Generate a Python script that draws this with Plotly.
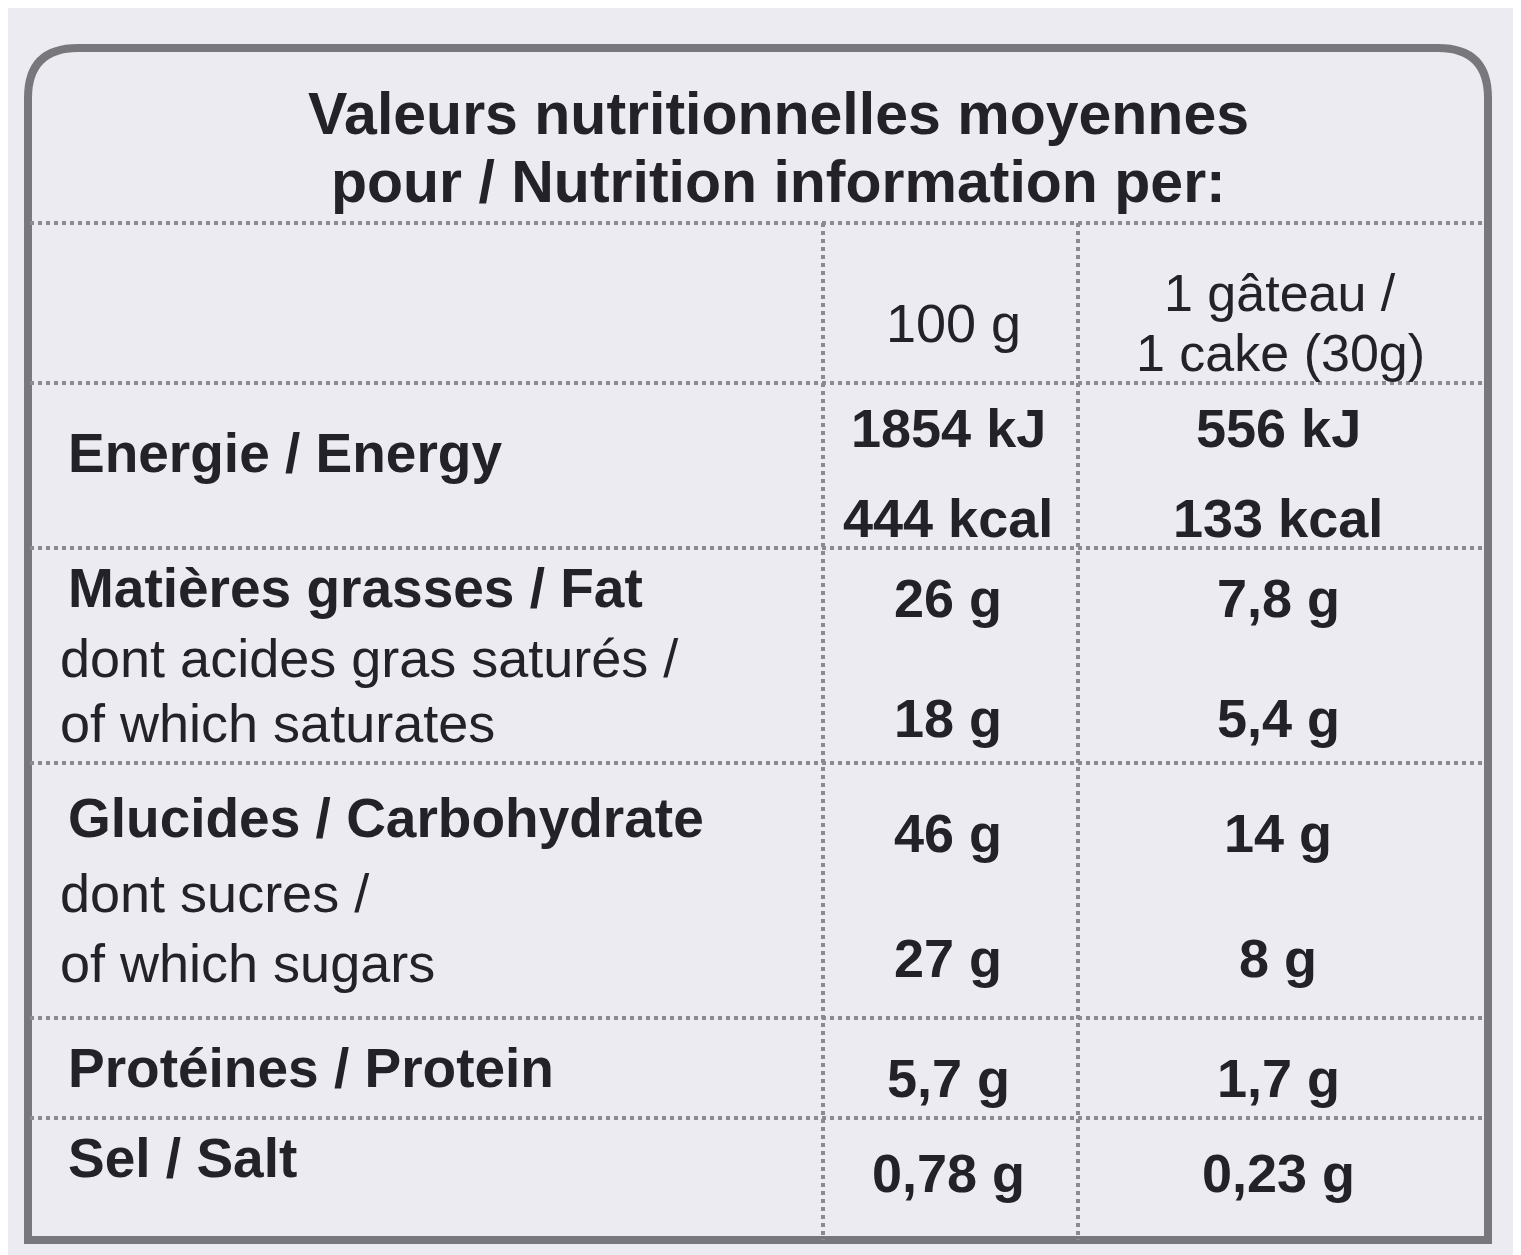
import plotly.graph_objects as go

title_lines = ["Valeurs nutritionnelles moyennes", "pour / Nutrition information per:"]
col_headers_100 = ["100 g"]
col_headers_cake = ["1 gâteau /", "1 cake (30g)"]
labels = [("Energie / Energy", True), ("Matières grasses / Fat", True),
          ("dont acides gras saturés /", False), ("of which saturates", False),
          ("Glucides / Carbohydrate", True), ("dont sucres /", False),
          ("of which sugars", False), ("Protéines / Protein", True), ("Sel / Salt", True)]
label_y = [445, 580, 650, 715, 810, 885, 955, 1060, 1150]
vals_100 = ["1854 kJ", "444 kcal", "26 g", "18 g", "46 g", "27 g", "5,7 g", "0,78 g"]
vals_cake = ["556 kJ", "133 kcal", "7,8 g", "5,4 g", "14 g", "8 g", "1,7 g", "0,23 g"]
vals_y = [420, 510, 590, 710, 825, 950, 1070, 1165]
hlines = [215, 375, 540, 755, 1010, 1110]
vlines = [815, 1070]

W, H = 1521, 1255
FONT = "Liberation Sans"
ink = "#222228"
fig = go.Figure()
ann = []
for i, t in enumerate(title_lines):
    ann.append(dict(x=770, y=106 + 68 * i, text=f"<b>{t}</b>", font=dict(size=59, family=FONT, color=ink)))
ann.append(dict(x=945, y=315, text=col_headers_100[0], font=dict(size=54, family=FONT, color=ink)))
for i, t in enumerate(col_headers_cake):
    ann.append(dict(x=1272, y=285 + 60 * i, text=t, font=dict(size=52, family=FONT, color=ink)))
for (t, b), y in zip(labels, label_y):
    ann.append(dict(x=58 if b else 50, y=y, text=f"<b>{t}</b>" if b else t, xanchor="left",
                    font=dict(size=55 if b else 54, family=FONT, color=ink)))
for v, y in zip(vals_100, vals_y):
    ann.append(dict(x=940, y=y, text=f"<b>{v}</b>", font=dict(size=54, family=FONT, color=ink)))
for v, y in zip(vals_cake, vals_y):
    ann.append(dict(x=1270, y=y, text=f"<b>{v}</b>", font=dict(size=54, family=FONT, color=ink)))
for a in ann:
    a.update(xref="x", yref="y", showarrow=False, yanchor="middle")
    a.setdefault("xanchor", "center")

shapes = [dict(type="path", path="M 70 40 L 1430 40 Q 1480 40 1480 90 L 1480 1232 L 20 1232 L 20 90 Q 20 40 70 40 Z",
               line=dict(color="#77777c", width=8), xref="x", yref="y")]
for y in hlines:
    shapes.append(dict(type="line", x0=22, x1=1478, y0=y, y1=y, line=dict(color="#8a8a90", width=4, dash="dot"), xref="x", yref="y"))
for x in vlines:
    shapes.append(dict(type="line", x0=x, x1=x, y0=215, y1=1232, line=dict(color="#8a8a90", width=4, dash="dot"), xref="x", yref="y"))

fig.update_layout(width=W, height=H, margin=dict(l=0, r=0, t=0, b=0),
                  paper_bgcolor="#ecebf1", plot_bgcolor="#ecebf1",
                  xaxis=dict(range=[0, W], visible=False), yaxis=dict(range=[H, 0], visible=False),
                  annotations=ann, shapes=shapes, showlegend=False)
fig.write_html("out.html")
